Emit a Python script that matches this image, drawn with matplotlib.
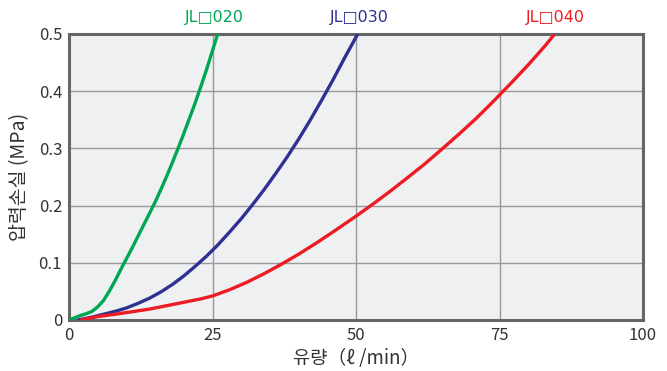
import matplotlib
matplotlib.use("Agg")
import matplotlib.pyplot as plt

plt.rcParams['font.family'] = ['Noto Sans CJK KR', 'DejaVu Sans']

# data (flow l/min, pressure loss MPa)
jl020_x = [0, 1, 2, 3, 4, 5, 6, 7, 8, 9, 10, 11, 12, 13, 14, 15, 16, 17, 18, 19, 20, 21, 22, 23, 24, 25, 25.9]
jl020_y = [0, 0.004, 0.008, 0.011, 0.015, 0.023, 0.034, 0.050, 0.068, 0.088, 0.107, 0.126, 0.146,
           0.166, 0.186, 0.206, 0.228, 0.251, 0.275, 0.300, 0.326, 0.353, 0.380, 0.409, 0.439, 0.471, 0.500]

jl030_x = [1.5, 4, 6, 8, 10, 12, 14, 16, 18, 20, 22, 24, 26, 28, 30, 32, 34, 36, 38, 40, 42, 44, 46, 48, 50.3]
jl030_y = [0, 0.005, 0.010, 0.015, 0.021, 0.029, 0.038, 0.049, 0.062, 0.077, 0.094, 0.112, 0.132,
           0.154, 0.177, 0.202, 0.228, 0.256, 0.285, 0.316, 0.349, 0.384, 0.420, 0.458, 0.500]

jl040_x = [2, 5, 8, 11, 14, 17, 20, 23, 25, 28, 31, 34, 37, 40, 43, 46, 50, 53, 56, 59, 62, 65, 68,
           71, 74, 77, 80, 83, 84.6]
jl040_y = [0, 0.006, 0.010, 0.0145, 0.019, 0.025, 0.031, 0.037, 0.042, 0.053, 0.066, 0.081, 0.0975,
           0.115, 0.134, 0.154, 0.1815, 0.203, 0.2255, 0.249, 0.273, 0.299, 0.3255, 0.353, 0.383,
           0.414, 0.446, 0.480, 0.500]

series_names = ["JL□020", "JL□030", "JL□040"]
colors = ["#00a651", "#2e3192", "#ed1c24"]

x_ticks = [0, 25, 50, 75, 100]
y_ticks = [0, 0.1, 0.2, 0.3, 0.4, 0.5]
y_ticklabels = ["0", "0.1", "0.2", "0.3", "0.4", "0.5"]

fig = plt.figure(figsize=(6.67, 3.71), dpi=100)
ax = fig.add_axes([69/667, 1 - 320/371, (643-69)/667, (320-34)/371])
ax.set_facecolor("#eff0f2")

for xs, ys, c in zip([jl020_x, jl030_x, jl040_x], [jl020_y, jl030_y, jl040_y], colors):
    ax.plot(xs, ys, color=c, lw=2.4, solid_capstyle='butt', solid_joinstyle='round',
            clip_on=True, zorder=3)

ax.set_xlim(0, 100)
ax.set_ylim(0, 0.5)
ax.set_xticks(x_ticks)
ax.set_yticks(y_ticks)
ax.set_yticklabels(y_ticklabels)
ax.grid(True, color="#999999", lw=1.0, zorder=1)
ax.set_axisbelow(True)
ax.tick_params(length=0, labelsize=12, colors="#333333", pad=5)
for s in ax.spines.values():
    s.set_color("#666666")
    s.set_linewidth(2.2)

label_x = [25.3, 50.6, 84.8]
for name, lx, c in zip(series_names, label_x, colors):
    ax.text(lx, 0.515, name, color=c, fontsize=11.5, ha='center', va='bottom',
            family=['DejaVu Sans'])

ax.set_xlabel("유량（ℓ /min）", fontsize=13.5, color="#333333", labelpad=3)
ax.set_ylabel("압력손실 (MPa)", fontsize=14, color="#333333", labelpad=6)

fig.savefig("out.png", dpi=100)
